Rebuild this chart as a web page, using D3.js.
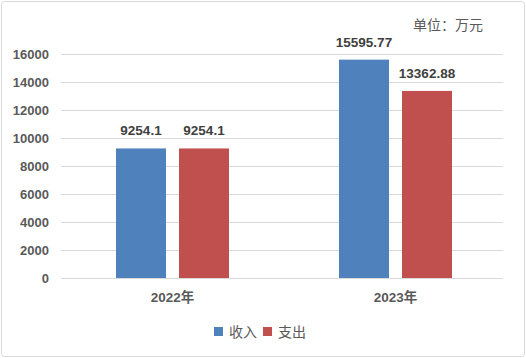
<!DOCTYPE html>
<html><head><meta charset="utf-8">
<script src="https://cdn.jsdelivr.net/npm/d3@7"></script>
<style>body{margin:0;background:#fff}svg{display:block}</style>
</head><body>
<script>
const categories = ["2022年", "2023年"];
const seriesNames = ["收入", "支出"];
const income = [9254.1, 15595.77];
const expense = [9254.1, 13362.88];
const incomeLabels = ["9254.1", "15595.77"];
const expenseLabels = ["9254.1", "13362.88"];
const yTicks = [0, 2000, 4000, 6000, 8000, 10000, 12000, 14000, 16000];
const unitLabel = "单位：万元";
const colors = ["#4F81BD", "#C0504D"];

(function () {
const W = 526, H = 358;
const svg = d3.select("body").append("svg").attr("width", W).attr("height", H);
svg.append("rect").attr("x", 1.5).attr("y", 1.5).attr("width", W - 3).attr("height", H - 3)
  .attr("rx", 3).attr("fill", "#fff").attr("stroke", "#d9d9d9");

const pLeft = 61, pRight = 503, pTop = 54, pBottom = 278;
const y = d3.scaleLinear().domain([0, 16000]).range([pBottom, pTop]);
const x0 = d3.scaleBand().domain(categories).range([pLeft, pRight + 4]).padding(0);
const x1 = d3.scaleBand().domain(seriesNames).range([0, x0.bandwidth()])
  .paddingInner(13 / 63).paddingOuter(0.873);

// gridlines
svg.append("g").selectAll("line").data(yTicks).join("line")
  .attr("x1", pLeft).attr("x2", pRight)
  .attr("y1", d => Math.round(y(d)) + 0.5).attr("y2", d => Math.round(y(d)) + 0.5)
  .attr("stroke", "#d9d9d9").attr("stroke-width", 1);

// y labels
const yAxis = d3.axisLeft(y).tickValues(yTicks).tickFormat(d3.format("d")).tickSize(0).tickPadding(0);
const gy = svg.append("g").attr("transform", `translate(49,0)`).call(yAxis);
gy.select(".domain").remove();
gy.selectAll("text").attr("font-family", "Liberation Sans, Arial, sans-serif")
  .attr("font-weight", "bold").attr("font-size", 13).attr("fill", "#595959");

const data = categories.map((c, i) => ({
  cat: c,
  vals: [
    {s: seriesNames[0], v: income[i], label: incomeLabels[i], color: colors[0]},
    {s: seriesNames[1], v: expense[i], label: expenseLabels[i], color: colors[1]}
  ]
}));

const groups = svg.append("g").selectAll("g").data(data).join("g")
  .attr("transform", d => `translate(${x0(d.cat)},0)`);
groups.selectAll("rect").data(d => d.vals).join("rect")
  .attr("x", d => x1(d.s)).attr("width", x1.bandwidth())
  .attr("y", d => y(d.v)).attr("height", d => y(0) - y(d.v))
  .attr("fill", d => d.color);
groups.selectAll("text").data(d => d.vals).join("text")
  .attr("x", d => x1(d.s) + x1.bandwidth() / 2)
  .attr("y", d => y(d.v) - 13)
  .attr("text-anchor", "middle")
  .attr("font-family", "Liberation Sans, Arial, sans-serif")
  .attr("font-weight", "bold").attr("font-size", 13.5).attr("fill", "#404040")
  .text(d => d.label);

// x labels
const xAxis = d3.axisBottom(x0).tickSize(0).tickPadding(0);
const gx = svg.append("g").attr("transform", `translate(0,${pBottom + 24})`).call(xAxis);
gx.select(".domain").remove();
gx.selectAll("text").attr("dy", 0)
  .attr("font-family", "Liberation Sans, 'Noto Sans CJK SC', sans-serif")
  .attr("font-weight", "bold").attr("font-size", 13.5).attr("fill", "#595959");

// unit label
svg.append("text").attr("x", 483).attr("y", 30).attr("text-anchor", "end")
  .attr("font-family", "'Noto Sans CJK SC', sans-serif").attr("font-size", 14)
  .attr("fill", "#595959").text(unitLabel);

// legend
const legendItems = [
  {name: seriesNames[0], color: colors[0], x: 214},
  {name: seriesNames[1], color: colors[1], x: 263}
];
const li = svg.append("g").selectAll("g").data(legendItems).join("g")
  .attr("transform", d => `translate(${d.x},327)`);
li.append("rect").attr("width", 9).attr("height", 9).attr("fill", d => d.color);
li.append("text").attr("x", 15).attr("y", 10)
  .attr("font-family", "'Noto Sans CJK SC', sans-serif").attr("font-size", 14)
  .attr("fill", "#595959").text(d => d.name);
})();
</script>
</body></html>
